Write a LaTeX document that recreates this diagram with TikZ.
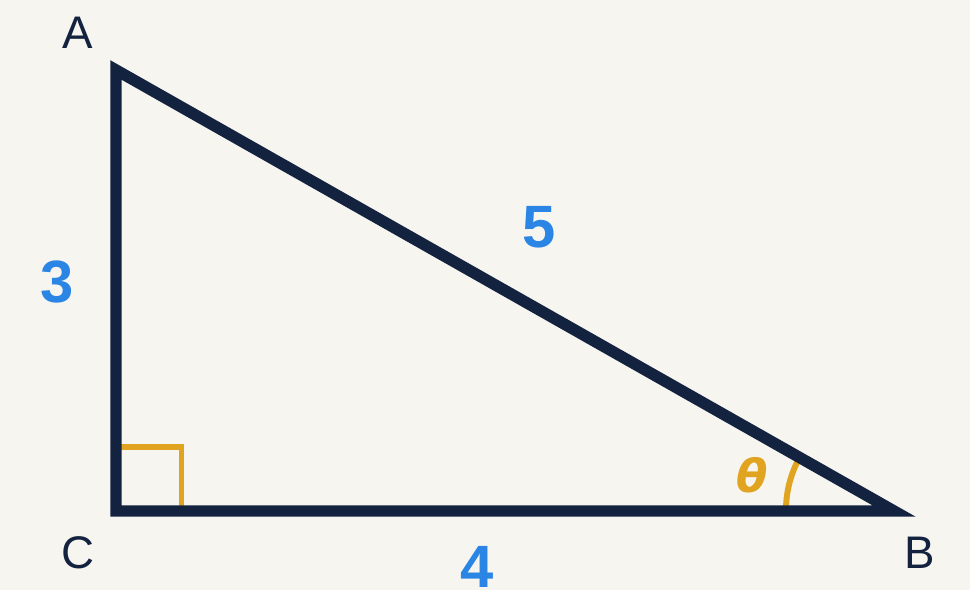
\documentclass[tikz,border=0pt]{standalone}
\usepackage{fontspec}
\setmainfont{Liberation Sans}
\newfontfamily\thetafont{DejaVu Sans}
\usepackage{tikz}

\definecolor{navy}{HTML}{13233F}
\definecolor{sideblue}{HTML}{2A85E4}
\definecolor{anglegold}{HTML}{E0A420}
\definecolor{paper}{HTML}{F7F5F0}

\tikzset{
  vertexlabel/.style={text=navy,font=\fontsize{26}{30}\selectfont,inner sep=0pt},
  sidelabel/.style={text=sideblue,font=\fontsize{34}{38}\selectfont\bfseries,inner sep=0pt},
  anglemark/.style={draw=anglegold,line width=3.4pt},
}

\begin{document}
\begin{tikzpicture}[x=0.02cm,y=-0.02cm]

		\fill[paper] (0,0) rectangle (970,590);
		\useasboundingbox (0,0) rectangle (970,590);

		\coordinate (A) at (116, 70);
		\coordinate (C) at (116,511);
		\coordinate (B) at (894,511);

		\node[vertexlabel] (lA) at ( 78, 33) {A};
		\node[vertexlabel] (lC) at ( 78,553) {C};
		\node[vertexlabel] (lB) at (920,553) {B};

		\node[sidelabel] (s3) at ( 57,282) {3};
		\node[sidelabel] (s5) at (539,227) {5};
		\node[sidelabel] (s4) at (477,567) {4};

		\node[text=anglegold,font=\fontsize{26}{30}\selectfont\thetafont\bfseries\itshape,inner sep=0pt] (th) at (752,475) {θ};

		\coordinate (r1) at (117,447);
		\coordinate (r2) at (181.5,511);
		\draw[anglemark] (r1) -| (r2);

		\draw[anglemark] (B) ++(-108,-1) arc[start angle=180,end angle=210.5,radius=108];

		\draw[navy,line width=6.5pt,line join=miter] (A) -- (B) -- (C) -- cycle;

	\end{tikzpicture}
\end{document}
